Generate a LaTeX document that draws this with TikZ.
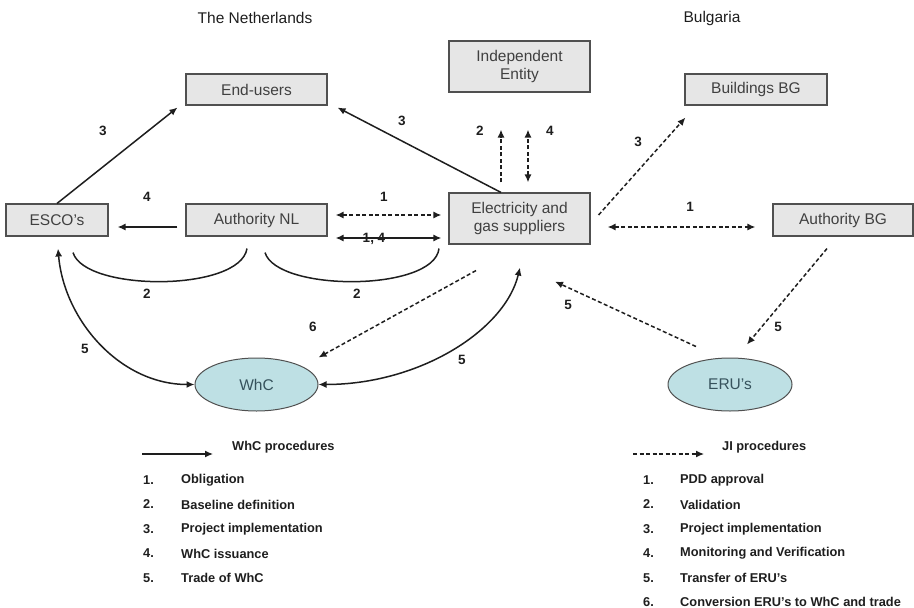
\documentclass[tikz,border=0pt]{standalone}
\usepackage{fontspec}
\setmainfont{Liberation Sans}
\usetikzlibrary{arrows.meta,shapes.geometric,calc}
\definecolor{boxfill}{HTML}{E6E6E6}
\definecolor{boxdraw}{HTML}{505050}
\definecolor{boxtext}{HTML}{404040}
\definecolor{ellfill}{HTML}{BEE0E4}
\definecolor{elltext}{HTML}{36525C}
\definecolor{ink}{HTML}{1E1E1E}
\tikzset{
  box/.style={draw=boxdraw, fill=boxfill, line width=1.1pt, text=boxtext, inner sep=0pt,
    font=\fontsize{15.5}{18}\selectfont, align=center},
  ell/.style={ellipse, draw=boxdraw, fill=ellfill, line width=1pt, text=elltext, inner sep=0pt,
    minimum width=123pt, minimum height=53pt, font=\fontsize{15.5}{18}\selectfont},
  title/.style={text=ink, font=\fontsize{15.5}{18}\selectfont},
  lab/.style={text=ink, font=\fontsize{13.5}{15}\selectfont\bfseries, inner sep=1pt},
  leg/.style={text=ink, font=\fontsize{12.8}{14}\selectfont\bfseries, anchor=west, inner sep=0pt},
  tip/.style={-{Latex[length=8pt,width=7pt]}},
  dtip/.style={{Latex[length=8pt,width=7pt]}-{Latex[length=8pt,width=7pt]}},
  solid line/.style={draw=ink, line width=1.5pt},
  dash line/.style={draw=ink, line width=1.5pt, dash pattern=on 4pt off 2.5pt},
}
\begin{document}
\begin{tikzpicture}[x=1pt,y=-1pt]
\useasboundingbox (0,0) rectangle (914,608);

% titles
\node[title] (tnl) at (255,18) {The Netherlands};
\node[title] (tbg) at (712,18) {Bulgaria};

% boxes
\node[box, minimum width=141pt, minimum height=31pt] (eu) at (256.5,89.5) {End-users};
\node[box, minimum width=141pt, minimum height=51pt] (ie) at (519.5,66.5) {Independent\\Entity};
\node[box, minimum width=142pt, minimum height=31pt] (bbg) at (756,89.5) {Buildings BG};
\node[box, minimum width=102pt, minimum height=32pt] (esco) at (57,220) {ESCO's};
\node[box, minimum width=141pt, minimum height=32pt] (anl) at (256.5,220) {Authority NL};
\node[box, minimum width=141pt, minimum height=51pt] (elec) at (519.5,218.5) {Electricity and\\gas suppliers};
\node[box, minimum width=140pt, minimum height=32pt] (abg) at (843,220) {Authority BG};
\node[ell] (whc) at (256.5,384.5) {WhC};
\node[ell, minimum width=124pt] (eru) at (730,384.5) {ERU's};

% WhC (solid) arrows
\draw[solid line, tip] (esco.north) -- ($(eu.south west)+(-8,2)$);
\draw[solid line, tip] ($(elec.north)+(-18.5,0)$) -- ($(eu.south east)+(10,2)$);
\draw[solid line, tip] ($(anl.west)+(-8,7)$) -- ($(esco.east)+(9,7)$);
\draw[solid line, dtip] ($(anl.east)+(8,18)$) -- ($(elec.west)+(-7,19.5)$);
\draw[solid line] ($(esco.south)+(16,16)$) .. controls (85,292) and (240,292) .. ($(anl.south)+(-9.5,12)$);
\draw[solid line] ($(anl.south)+(8.5,16)$) .. controls (277,292) and (434,292) .. ($(elec.south)+(-80.5,4)$);
\draw[solid line, dtip] ($(esco.south)+(1,12)$) .. controls (64,320) and (120,384.5) .. (whc.west);
\draw[solid line, dtip] (whc.east) .. controls (420,384.5) and (505,330) .. ($(elec.south)+(0.5,23)$);

% JI (dashed) arrows
\draw[dash line, dtip] ($(anl.east)+(8,-5)$) -- ($(elec.west)+(-7,-3.5)$);
\draw[dash line, tip] ($(elec.north)+(-18.5,-10)$) -- ($(ie.south)+(-18.5,37)$);
\draw[dash line, dtip] ($(elec.north)+(8.5,-10)$) -- ($(ie.south)+(8.5,37)$);
\draw[dash line, tip] ($(elec.east)+(8,-3.5)$) -- ($(bbg.south west)+(1,12)$);
\draw[dash line, dtip] ($(elec.east)+(17,8.5)$) -- ($(abg.west)+(-17,7)$);
\draw[dash line, tip] ($(abg.south)+(-16,12)$) -- ($(eru.north)+(17,-13)$);
\draw[dash line, tip] ($(eru.north)+(-34,-11)$) -- ($(elec.south)+(35.5,37)$);
\draw[dash line, tip] ($(elec.south)+(-43.5,26)$) -- ($(whc.east)+(0,-27)$);

% labels
\node[lab] (l3a) at (103,131) {3};
\node[lab] (l3b) at (402,121) {3};
\node[lab] (l4a) at (147,197) {4};
\node[lab] (l1a) at (384,197) {1};
\node[lab] (l14) at (374,239) {1, 4};
\node[lab] (l2a) at (147,294) {2};
\node[lab] (l2b) at (357,294) {2};
\node[lab] (l2c) at (480,131) {2};
\node[lab] (l4b) at (550,131) {4};
\node[lab] (l3c) at (638,142) {3};
\node[lab] (l1b) at (690,207) {1};
\node[lab] (l5a) at (778,327) {5};
\node[lab] (l5b) at (568,305) {5};
\node[lab] (l6) at (313,327) {6};
\node[lab] (l5c) at (85,349) {5};
\node[lab] (l5d) at (462,360) {5};

% legend WhC
\coordinate (wa) at (142,454);
\coordinate (wb) at (213,454);
\draw[solid line, line width=1.2pt, tip] (wa) -- (wb);
\node[leg] (wt) at (232,447) {WhC procedures};
\node[leg] (w1n) at (143,480) {1.};
\node[leg] (w1) at (181,480) {Obligation};
\node[leg] (w2n) at (143,504.5) {2.};
\node[leg] (w2) at (181,504.5) {Baseline definition};
\node[leg] (w3n) at (143,529) {3.};
\node[leg] (w3) at (181,529) {Project implementation};
\node[leg] (w4n) at (143,553.5) {4.};
\node[leg] (w4) at (181,553.5) {WhC issuance};
\node[leg] (w5n) at (143,578) {5.};
\node[leg] (w5) at (181,578) {Trade of WhC};

% legend JI
\coordinate (ja) at (633,454);
\coordinate (jb) at (704,454);
\draw[dash line, line width=1.2pt, tip] (ja) -- (jb);
\node[leg] (jt) at (722,447) {JI procedures};
\node[leg] (j1n) at (643,480) {1.};
\node[leg] (j1) at (680,480) {PDD approval};
\node[leg] (j2n) at (643,504.5) {2.};
\node[leg] (j2) at (680,504.5) {Validation};
\node[leg] (j3n) at (643,529) {3.};
\node[leg] (j3) at (680,529) {Project implementation};
\node[leg] (j4n) at (643,553.5) {4.};
\node[leg] (j4) at (680,553.5) {Monitoring and Verification};
\node[leg] (j5n) at (643,578) {5.};
\node[leg] (j5) at (680,578) {Transfer of ERU's};
\node[leg] (j6n) at (643,602) {6.};
\node[leg] (j6) at (680,602) {Conversion ERU's to WhC and trade};
\end{tikzpicture}
\end{document}
